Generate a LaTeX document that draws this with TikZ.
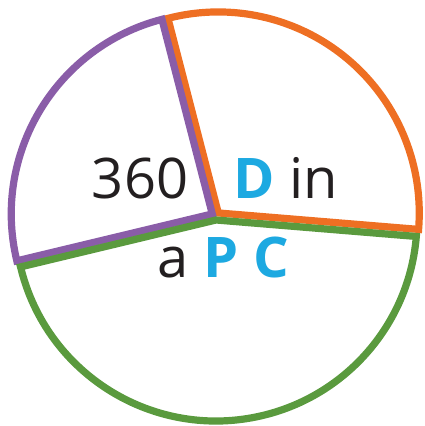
\documentclass[tikz,border=0pt]{standalone}
\usepackage{fontspec}
\setmainfont{Open Sans}
\usetikzlibrary{calc}
\definecolor{pieorange}{HTML}{EE6F23}
\definecolor{piepurple}{HTML}{8A5DA8}
\definecolor{piegreen}{HTML}{5A9A3E}
\definecolor{textblue}{HTML}{1DA9E1}
\definecolor{textdark}{HTML}{231F20}
\tikzset{
  slice/.style={line width=7.2pt, line join=miter, fill=none},
  bigtext/.style={inner sep=0pt, anchor=base, text=textdark, font=\fontsize{56}{56}\selectfont},
}
\newcommand{\hl}[1]{\textcolor{textblue}{\bfseries #1}}
\begin{document}
\begin{tikzpicture}[x=1pt,y=1pt]
\useasboundingbox (0,0) rectangle (424,-426);
\coordinate (ctr) at (215.7,-216);
\coordinate (apexO) at ($(ctr)+(49.9:4)$);
\coordinate (apexP) at ($(ctr)+(149:4)$);
\coordinate (apexG) at ($(ctr)+(274.3:4)$);
\draw[slice, pieorange] (apexO) -- ++(104.5:201) arc[start angle=104.5, end angle=-4.7, radius=201] -- cycle;
\draw[slice, piepurple] (apexP) -- ++(104.5:201) arc[start angle=104.5, end angle=193.5, radius=201] -- cycle;
\draw[slice, piegreen] (apexG) -- ++(193.5:201) arc[start angle=193.5, end angle=355.3, radius=201] -- cycle;
\node[bigtext] (t360) at (140,-198) {360};
\node[bigtext] (tDin) at (285.5,-198) {\hl{D} in};
\node[bigtext] (tapc) at (223.3,-277) {a \hl{P} \hl{C}};
\end{tikzpicture}
\end{document}
